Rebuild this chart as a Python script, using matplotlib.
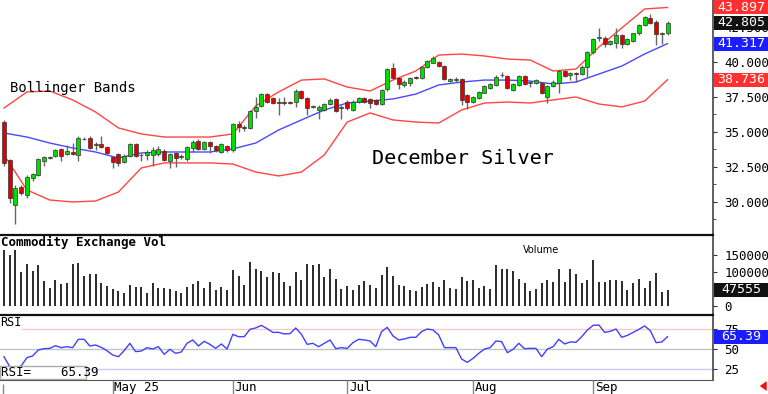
import matplotlib
matplotlib.use('Agg')
import matplotlib.pyplot as plt
import matplotlib.transforms as mtransforms
from matplotlib.patches import Rectangle
import numpy as np

# daily candles, December Silver (bar index 0 = early April)
opens = [35.74, 33.00, 29.79, 31.07, 30.50, 31.71, 31.93, 32.95, 33.17, 33.29,
         33.76, 33.43, 33.60, 33.36, 34.52, 34.55, 34.10, 34.12, 33.90, 33.24,
         33.43, 32.84, 33.29, 34.12, 33.38, 33.36, 33.36, 33.43, 33.67, 32.95,
         33.48, 33.22, 33.05, 33.83, 34.38, 33.79, 34.26, 34.00, 33.59, 34.02,
         33.71, 35.57, 35.38, 35.31, 36.52, 36.86, 37.69, 37.40, 37.14, 37.16,
         37.14, 37.12, 37.93, 37.45, 36.80, 36.57, 36.57, 36.98, 37.33, 36.74,
         37.16, 36.57, 37.16, 37.40, 37.33, 37.29, 37.00, 38.05, 39.55, 38.83,
         38.36, 38.52, 38.92, 38.83, 39.66, 39.95, 40.02, 39.71, 38.64, 38.70,
         38.76, 37.64, 37.16, 37.40, 37.81, 38.17, 38.36, 39.05, 39.00, 38.00,
         38.36, 39.00, 38.50, 38.48, 38.52, 37.48, 38.29, 38.48, 39.38, 39.07,
         39.20, 39.14, 39.66, 40.74, 41.69, 41.74, 41.26, 41.38, 41.93, 41.29,
         41.52, 42.05, 42.64, 43.12, 42.88, 42.00, 42.05]
highs = [35.85, 33.10, 31.20, 31.20, 31.90, 32.10, 33.15, 33.30, 33.30, 33.80,
         33.85, 34.10, 34.20, 34.70, 34.65, 34.70, 34.30, 34.70, 34.00, 33.30,
         33.50, 33.40, 34.20, 34.20, 33.50, 33.70, 33.90, 34.00, 33.80, 33.50,
         33.60, 33.40, 34.00, 34.40, 34.50, 34.35, 34.35, 34.10, 34.20, 34.10,
         35.65, 35.75, 35.50, 36.60, 37.50, 37.75, 37.80, 37.50, 37.40, 37.50,
         37.20, 38.10, 38.00, 37.50, 36.95, 36.90, 37.05, 37.40, 37.40, 36.90,
         37.30, 37.25, 37.50, 37.50, 37.40, 37.35, 38.10, 39.55, 39.95, 38.90,
         38.70, 38.95, 39.00, 39.75, 40.15, 40.40, 40.10, 39.80, 38.85, 38.95,
         38.85, 37.70, 37.55, 37.95, 38.35, 38.50, 39.05, 39.30, 39.10, 38.50,
         39.10, 39.10, 38.65, 38.80, 38.60, 38.35, 38.70, 39.45, 39.45, 39.30,
         39.30, 39.80, 40.80, 41.70, 42.40, 41.85, 41.60, 42.40, 42.00, 41.70,
         42.10, 42.75, 43.30, 43.45, 43.00, 42.15, 42.90]
lows = [32.60, 29.93, 28.43, 30.50, 30.30, 31.50, 31.85, 32.60, 33.10, 33.20,
        32.90, 33.35, 33.35, 32.95, 34.45, 33.80, 33.70, 33.85, 33.40, 32.40,
        32.60, 32.80, 33.20, 33.20, 32.90, 33.00, 32.60, 33.30, 32.95, 32.40,
        32.50, 33.10, 32.95, 33.60, 33.70, 33.70, 33.50, 33.60, 33.50, 33.60,
        33.60, 35.00, 35.10, 35.20, 36.00, 36.80, 37.10, 37.00, 36.20, 36.90,
        37.00, 36.80, 37.35, 36.20, 36.70, 35.90, 36.50, 36.90, 36.45, 35.90,
        36.60, 36.50, 37.10, 37.10, 36.70, 36.90, 36.90, 37.95, 38.75, 38.10,
        38.20, 38.30, 38.80, 38.75, 39.60, 39.90, 39.65, 38.70, 38.60, 38.60,
        36.90, 36.65, 37.10, 37.35, 37.75, 38.10, 38.30, 38.90, 38.05, 37.90,
        38.30, 38.35, 38.20, 38.40, 37.70, 37.10, 38.20, 37.80, 38.90, 38.70,
        38.60, 39.05, 38.95, 40.60, 41.50, 41.10, 41.20, 41.00, 41.00, 41.20,
        41.45, 41.95, 42.55, 42.75, 41.20, 41.30, 41.90]
closes = [32.76, 30.26, 31.00, 30.64, 31.80, 32.00, 33.07, 33.19, 33.21, 33.71,
          33.29, 33.64, 33.43, 34.55, 34.48, 33.83, 34.14, 33.90, 33.48, 32.88,
          32.81, 33.29, 34.12, 33.29, 33.34, 33.59, 33.71, 33.76, 33.00, 33.43,
          33.12, 33.26, 33.90, 34.31, 33.79, 34.26, 34.00, 33.71, 34.12, 33.71,
          35.57, 35.33, 35.26, 36.50, 36.81, 37.69, 37.16, 37.10, 37.10, 37.05,
          37.10, 37.93, 37.45, 36.69, 36.84, 36.76, 36.98, 37.29, 36.52, 36.78,
          36.69, 37.16, 37.40, 37.16, 37.05, 37.00, 38.00, 39.48, 38.83, 38.43,
          38.60, 38.83, 38.88, 39.66, 40.09, 40.26, 39.71, 38.76, 38.76, 38.78,
          37.29, 37.16, 37.48, 37.88, 38.29, 38.40, 38.95, 39.09, 38.12, 38.43,
          39.00, 38.43, 38.54, 38.71, 37.76, 38.29, 38.60, 39.38, 39.00, 39.19,
          39.18, 39.66, 40.74, 41.64, 41.81, 41.26, 41.52, 41.93, 41.26, 41.62,
          42.05, 42.64, 43.19, 42.81, 41.98, 42.10, 42.805]

volume = [163800, 149000, 163800, 98000, 121700, 103000, 119700, 73500, 51000, 75600,
          63800, 67600, 121700, 124700, 87300, 92300, 92300, 65900, 57900, 48200,
          44100, 38200, 60900, 55000, 55000, 38200, 66800, 52100, 52100, 48200,
          44100, 38200, 54100, 63800, 71800, 52100, 68800, 46200, 55900, 46200,
          105000, 87300, 60900, 129400, 107900, 102100, 83500, 98200, 97100, 70600,
          58800, 100000, 74700, 121700, 118800, 121700, 84400, 107900, 78500, 48200,
          57000, 45300, 60900, 73500, 60900, 51200, 90300, 113800, 88200, 61800,
          58800, 46200, 44100, 54100, 63800, 69700, 55900, 74700, 52100, 49100,
          83500, 73500, 75600, 52900, 57000, 49100, 119700, 107000, 107000, 103000,
          77600, 65900, 44100, 49100, 66800, 75600, 69700, 107900, 69700, 107900,
          94100, 65900, 74700, 134400, 70600, 70600, 75600, 74700, 71800, 46200,
          66800, 77600, 52900, 71800, 97100, 39400, 47555]

rsi = [40.4, 27.9, 26.5, 28.8, 39.2, 41.3, 48.8, 50.4, 50.8, 54.2,
       51.7, 52.9, 51.7, 62.1, 62.1, 53.8, 55.0, 52.1, 47.9, 42.5,
       40.4, 47.9, 57.1, 46.7, 47.5, 51.7, 50.0, 52.9, 43.3, 49.6,
       44.6, 46.3, 57.1, 61.3, 53.8, 59.6, 55.8, 50.8, 56.3, 50.0,
       68.3, 65.4, 65.4, 74.6, 76.3, 79.6, 75.4, 70.8, 70.8, 68.8,
       69.2, 76.3, 68.3, 55.8, 57.1, 52.9, 57.1, 61.3, 50.4, 51.7,
       50.8, 57.9, 62.1, 61.3, 60.0, 52.9, 71.7, 77.1, 66.3, 61.3,
       62.5, 64.6, 64.6, 71.7, 75.0, 73.8, 67.5, 51.7, 51.7, 51.7,
       37.5, 33.3, 38.3, 44.6, 50.0, 51.7, 60.0, 59.2, 45.4, 49.6,
       57.1, 50.4, 50.8, 50.8, 40.4, 50.0, 52.9, 62.1, 56.3, 58.8,
       58.4, 65.4, 73.8, 79.6, 80.0, 70.8, 72.1, 75.0, 64.6, 67.1,
       70.8, 74.6, 78.8, 72.9, 57.9, 58.8, 65.39]

# Bollinger bands read every 4 bars
band_idx = [0, 4, 8, 12, 16, 20, 24, 28, 32, 36, 40, 44, 48, 52, 56,
            60, 64, 68, 72, 76, 80, 84, 88, 92, 96, 100, 104, 108, 112, 116]
bb_upper = [36.71, 37.86, 37.93, 37.29, 36.43, 35.29, 34.86, 34.64, 34.64, 34.64,
            34.86, 36.86, 37.86, 38.71, 38.79, 38.21, 37.93, 38.71, 39.36, 40.50,
            40.57, 40.43, 40.21, 40.14, 39.36, 39.50, 41.07, 42.43, 43.79, 43.897]
bb_mid = [34.93, 34.64, 34.21, 33.86, 33.57, 33.14, 33.50, 33.57, 33.57, 33.57,
          33.79, 34.21, 35.14, 35.86, 36.57, 37.07, 37.21, 37.36, 37.71, 38.36,
          38.57, 38.71, 38.71, 38.64, 38.43, 38.57, 39.14, 39.71, 40.57, 41.317]
bb_lower = [33.36, 30.86, 30.14, 30.00, 30.07, 30.71, 32.43, 32.79, 32.79, 32.79,
            32.71, 32.14, 31.86, 32.14, 33.36, 35.71, 36.36, 35.86, 35.71, 35.64,
            36.57, 37.07, 37.14, 37.07, 37.29, 37.50, 37.00, 36.79, 37.21, 38.736]

month_idx = [19, 40, 60, 82, 103]
month_labels = ['May 25', 'Jun', 'Jul', 'Aug', 'Sep']

W, H = 768, 394
MONO = 'DejaVu Sans Mono'

fig = plt.figure(figsize=(W / 100, H / 100), dpi=100)


def panel(top, bottom, **kw):
    return fig.add_axes([0, (H - bottom) / H, 713 / W, (bottom - top) / H], **kw)


ax1 = panel(0, 235)
ax2 = panel(235, 315, sharex=ax1)
ax3 = panel(315, 380, sharex=ax1)
ax4 = panel(380, 394, sharex=ax1)

idx = np.arange(len(closes))
o = np.array(opens)
c = np.array(closes)
body = c - o
body = np.where(np.abs(body) < 0.03, np.where(body >= 0, 0.03, -0.03), body)
cols = np.where(c >= o, '#00dd00', '#e00000')

# price panel
ax1.vlines(idx, lows, highs, color='#666666', lw=1, zorder=2)
ax1.bar(idx, body, bottom=o, width=0.7, color=cols, edgecolor='#333333',
        linewidth=0.5, zorder=3)
ax1.plot(band_idx, bb_upper, color='#ff4545', lw=1, zorder=1)
ax1.plot(band_idx, bb_lower, color='#ff4545', lw=1, zorder=1)
ax1.plot(band_idx, bb_mid, color='#4848ff', lw=1, zorder=1)
ax1.set_xlim(-0.7, 123.95)
ax1.set_ylim(27.64, 44.43)
ax1.set_yticks([30, 32.5, 35, 37.5, 40, 42.5])
ax1.set_yticklabels(['%.3f' % v for v in [30, 32.5, 35, 37.5, 40, 42.5]])
ax1.set_yticks(np.arange(28.75, 44.4, 1.25), minor=True)

# volume panel
ax2.vlines(idx, 0, volume, color='#2a2a2a', lw=1.4)
ax2.set_ylim(-27350, 207900)
ax2.set_yticks([0, 50000, 100000, 150000])
ax2.set_yticklabels(['0', '', '100000', '150000'])

# RSI panel
ax3.axhline(75, xmin=22 / 713, color='#ffc8c8', lw=1)
ax3.axhline(50, color='#c4c4c4', lw=1)
ax3.axhline(25, color='#c8c8ff', lw=1)
ax3.plot(idx, rsi, color='#4040ff', lw=1)
ax3.set_ylim(11.25, 92.5)
ax3.set_yticks([25, 50, 75])

for ax in (ax1, ax2, ax3):
    ax.yaxis.tick_right()
    ax.tick_params(axis='y', which='both', direction='out', length=3, pad=5,
                   labelsize=9, colors='#333333', labelcolor='black')
    ax.tick_params(axis='y', which='minor', length=2)
    ax.tick_params(axis='x', which='both', bottom=False, labelbottom=False)
    for lab in ax.get_yticklabels():
        lab.set_family(MONO)
    for s in ('left', 'top', 'bottom'):
        ax.spines[s].set_visible(False)
    ax.spines['right'].set_color('#444444')
    ax.spines['right'].set_linewidth(1.2)
for ax in (ax2, ax3):
    ax.spines['top'].set_visible(True)
    ax.spines['top'].set_linewidth(1.6)
    ax.spines['top'].set_color('#111111')
ax3.spines['bottom'].set_visible(True)
ax3.spines['bottom'].set_color('#555555')

# date strip
ax4.set_ylim(0, 1)
ax4.axis('off')
ax4.vlines(month_idx, 0, 1, color='#888888', lw=1)
ax4.vlines([-0.2], 0, 0.7, color='#888888', lw=1)
for m, lab in zip(month_idx, month_labels):
    ax4.text(m + 0.3, 0.45, lab, ha='left', va='center', fontsize=9, family=MONO)


def flag(ax, val, text, fc, px_per_unit):
    tr = mtransforms.blended_transform_factory(ax.transAxes, ax.transData)
    half = 7 / px_per_unit
    ax.add_patch(Rectangle((1.0 + 1 / 713, val - half), 54 / 713, 2 * half,
                           transform=tr, facecolor=fc, edgecolor='none',
                           clip_on=False, zorder=5))
    ax.text(1.0 + 28 / 713, val, text, transform=tr, ha='center', va='center',
            color='white', fontsize=9.5, family=MONO, zorder=6, clip_on=False)


flag(ax1, 43.897, '43.897', '#ff3030', 14)
flag(ax1, 42.805, '42.805', '#111111', 14)
flag(ax1, 41.317, '41.317', '#1c1cff', 14)
flag(ax1, 38.736, '38.736', '#ff3030', 14)
flag(ax2, 47555, '47555', '#111111', 1 / 2941)
flag(ax3, 65.39, '65.39', '#1c1cff', 0.8)


def ftext(x, y, s, **kw):
    fig.text(x / W, 1 - y / H, s, **kw)


ftext(10, 88, 'Bollinger Bands', fontsize=10, family=MONO, va='center')
ftext(372, 158, 'December Silver', fontsize=14.5, family=MONO, va='center')
ftext(1, 242, 'Commodity Exchange Vol', fontsize=9, family=MONO,
      weight='bold', va='center')
ftext(541, 250, 'Volume', fontsize=7, va='center', ha='center')
ftext(0, 323, 'RSI', fontsize=8.5, family=MONO, va='center')

# RSI readout box
ax3.add_patch(Rectangle((0, 1 / 65), 86 / 713, 13 / 65, transform=ax3.transAxes,
                        facecolor='white', edgecolor='#aaaaaa', lw=1, zorder=4))
ax3.text(1 / 713, 7.5 / 65, 'RSI=    65.39', transform=ax3.transAxes,
         fontsize=9, family=MONO, va='center', zorder=5)

# red scroll arrow
ax4.annotate('', xy=(757 / W, 8 / H), xytext=(768 / W, 8 / H),
             xycoords='figure fraction', textcoords='figure fraction',
             arrowprops=dict(arrowstyle='simple,head_width=0.7,head_length=0.5,tail_width=0.3',
                             color='#ee1111', lw=0))

fig.savefig('out.png', dpi=100)
